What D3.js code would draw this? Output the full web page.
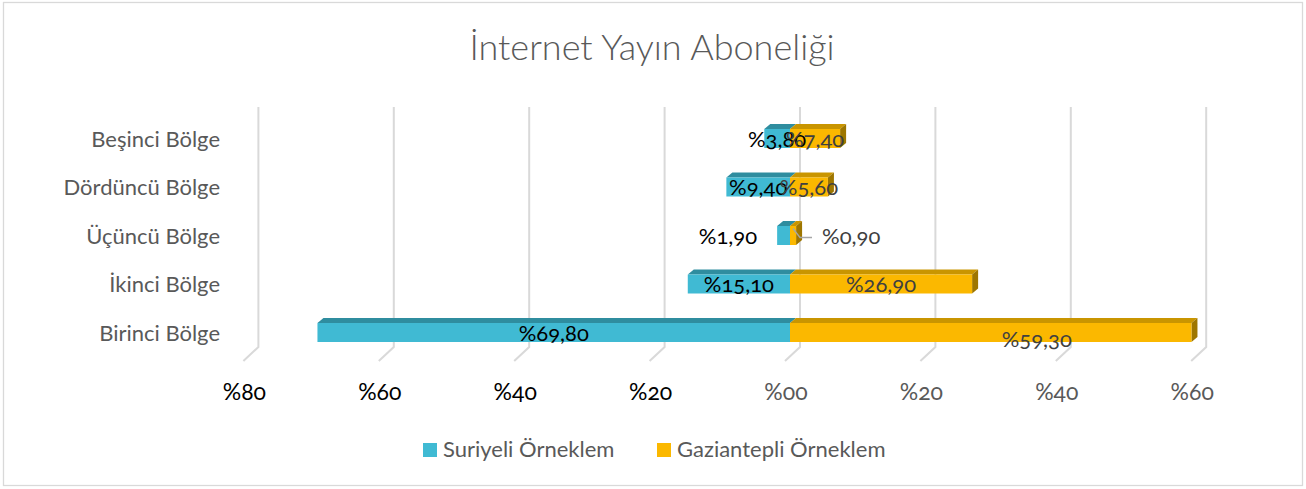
<!DOCTYPE html>
<html>
<head>
<meta charset="utf-8">
<script src="https://cdn.jsdelivr.net/npm/d3@7"></script>
<style>
  body { margin: 0; background: #fff; }
  text { font-family: Lato, "Open Sans", sans-serif; }
</style>
</head>
<body>
<div id="chart"></div>
<script>
var width = 1306;
var height = 489;

// data
var categories = ["Birinci Bölge", "İkinci Bölge", "Üçüncü Bölge", "Dördüncü Bölge", "Beşinci Bölge"];
var suriyeli = [69.8, 15.1, 1.9, 9.4, 3.8];
var gaziantep = [59.3, 26.9, 0.9, 5.6, 7.4];
var tickValues = [-80, -60, -40, -20, 0, 20, 40, 60];
var seriesNames = ["Suriyeli Örneklem", "Gaziantepli Örneklem"];

var blue = "#40bad3", blueTop = "#2f8d9f";
var gold = "#fbb800", goldTop = "#c99500", goldSide = "#9e7600";
var gridColor = "#d9d9d9";
var textGray = "#595959";

var svg = d3.select("#chart").append("svg")
      .attr("width", width)
      .attr("height", height);

// outer border
svg.append("rect")
      .attr("x", 3.5).attr("y", 2.5)
      .attr("width", 1299).attr("height", 483)
      .style("fill", "none")
      .style("stroke", gridColor)
      .style("stroke-width", 1.3);

svg.append("text")
      .attr("x", 652).attr("y", 60)
      .style("text-anchor", "middle")
      .style("font-size", "36px")
      .style("font-weight", 300)
      .style("fill", textGray)
      .text("İnternet Yayın Aboneliği");

// scales: blue goes left of zero (negative), gold to the right
var x = d3.scaleLinear().domain([-80, 60]).range([248.4, 1196.2]);
var y = d3.scalePoint().domain(categories.slice().reverse()).range([138.5, 332.5]);
var barH = 19, dx = 6, dy = -5;
var fmt = d => "%" + d3.format(".2f")(d).replace(".", ",");
var fmtTick = d => "%" + d3.format("02d")(Math.abs(d));

// wall grid (back plane with floor diagonal)
var grid = svg.append("g");
tickValues.forEach(function(v) {
  grid.append("path")
      .attr("d", d3.line()([[x(v) + 10, 107], [x(v) + 10, 347], [x(v) - 5, 361]]))
      .style("fill", "none")
      .style("stroke", gridColor)
      .style("stroke-width", 2);
});

// tick labels
svg.append("g").selectAll("text")
      .data(tickValues)
      .enter().append("text")
      .attr("x", d => x(d) - 4)
      .attr("y", 400)
      .style("text-anchor", "middle")
      .style("font-size", "23px")
      .style("font-variant-numeric", "oldstyle-nums")
      .style("fill", d => d < 0 ? "#000" : textGray)
      .text(fmtTick);

// category labels
svg.append("g").selectAll("text")
      .data(categories)
      .enter().append("text")
      .attr("x", 220)
      .attr("y", d => y(d) + 8)
      .style("text-anchor", "end")
      .style("font-size", "22px")
      .style("fill", textGray)
      .text(d => d);

// 3D bar: front face, top face, and right side for bars going right
function bar(g, x0, x1, cy, front, top, side) {
  var t = cy - barH / 2, b = cy + barH / 2;
  g.append("path")
      .attr("d", d3.line()([[x0, t], [x1, t], [x1 + dx, t + dy], [x0 + dx, t + dy]]) + "Z")
      .style("fill", top);
  if (side) {
    g.append("path")
        .attr("d", d3.line()([[x1, t], [x1 + dx, t + dy], [x1 + dx, b + dy], [x1, b]]) + "Z")
        .style("fill", side);
  }
  g.append("rect")
      .attr("x", x0).attr("y", t)
      .attr("width", x1 - x0).attr("height", barH)
      .style("fill", front);
}

var bars = svg.append("g");
categories.forEach(function(c, i) {
  bar(bars, x(-suriyeli[i]), x(0), y(c), blue, blueTop, null);
  bar(bars, x(0), x(gaziantep[i]), y(c), gold, goldTop, goldSide);
});

// data labels, a few moved like in the original
var labelNudge = {
  "s2": { anchor: "end", x: -20, dy: 0, outside: true },
  "g2": { anchor: "start", x: 32, dy: 0, outside: true },
  "g0": { anchor: "middle", x: 46, dy: 6 }
};
var labels = svg.append("g");
categories.forEach(function(c, i) {
  [["s", -suriyeli[i], suriyeli[i], "#000"], ["g", gaziantep[i], gaziantep[i], "#404040"]].forEach(function(s) {
    var key = s[0] + i, n = labelNudge[key] || {};
    var lx = n.outside ? x(0) + n.x : (x(0) + x(s[1])) / 2 + (n.x || 0);
    if (s[0] === "s" && n.outside) lx = x(s[1]) + n.x;
    labels.append("text")
        .attr("x", lx)
        .attr("y", y(c) + 8 + (n.dy || 0))
        .style("text-anchor", n.anchor || "middle")
        .style("font-size", "22px")
        .style("font-variant-numeric", "oldstyle-nums")
        .style("fill", s[3])
        .text(fmt(s[2]));
  });
});

// leader line for the tiny gold label
var ly = y(categories[2]);
svg.append("path")
      .attr("d", d3.line()([[x(0) + 3, ly - 7], [x(0) + 10, ly + 2], [x(0) + 22, ly + 2]]))
      .style("fill", "none")
      .style("stroke", "#a6a6a6")
      .style("stroke-width", 1.3);

// legend
var legend = svg.append("g");
[[423, blue], [657, gold]].forEach(function(l, i) {
  legend.append("rect")
      .attr("x", l[0]).attr("y", 443)
      .attr("width", 14).attr("height", 14)
      .style("fill", l[1]);
  legend.append("text")
      .attr("x", l[0] + 20).attr("y", 457)
      .style("font-size", "22px")
      .style("fill", textGray)
      .text(seriesNames[i]);
});
</script>
</body>
</html>
